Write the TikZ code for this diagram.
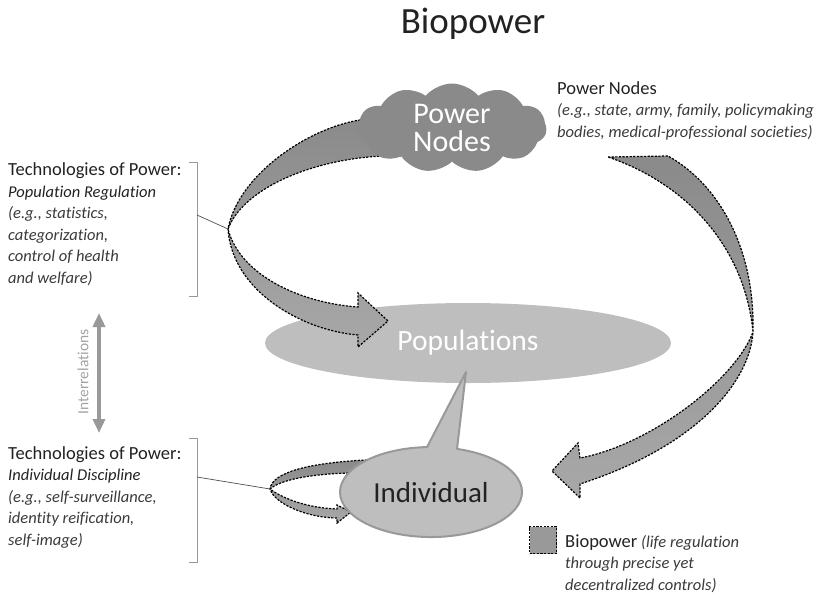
\documentclass[tikz,border=0pt]{standalone}
\usepackage{fontspec}
\setmainfont{Carlito}[Ligatures=CommonOff]
\usetikzlibrary{shapes.geometric}
\usetikzlibrary{shapes.symbols}
\usetikzlibrary{arrows.meta}

\definecolor{darkgrey}{HTML}{8A8A8A}
\definecolor{lightgrey}{HTML}{A8A8A8}
\definecolor{blobgrey}{HTML}{BEBEBE}
\definecolor{rimgrey}{HTML}{999999}
\definecolor{inkgrey}{HTML}{222222}
\definecolor{notegrey}{HTML}{3A3A3A}

\newcommand{\headsize}{\fontsize{18.5}{21.5}\selectfont}

\begin{document}
\begin{tikzpicture}[x=1pt,y=-1pt]
  \tikzset{ribbon/.style = {draw=black, line width=1.2pt, dash pattern=on 2.2pt off 1.4pt, top color=darkgrey, bottom color=lightgrey}}
  \tikzset{blurb/.style = {anchor=base west, align=left, inner sep=0pt, font=\fontsize{16.5}{21.5}\selectfont\itshape, text=notegrey}}
  \tikzset{bracket/.style = {draw=rimgrey, line width=1pt}}
  \tikzset{leader/.style = {draw=inkgrey!80, line width=0.7pt}}

  \useasboundingbox (0,0) rectangle (826,597);

	\node[font=\fontsize{37}{40}\selectfont, text=inkgrey] (title) at (473,24) {Biopower};

	\node[ellipse, fill=blobgrey, inner sep=0pt, minimum width=406, minimum height=80, text=white, font=\fontsize{29.5}{30}\selectfont] (pop) at (468,343) {Populations};

	\coordinate (pinch1) at (228,229);
	\coordinate (pinch2) at (753,332);
	\coordinate (pinch3) at (270,489);
	\coordinate (tie1) at (197,215);
	\coordinate (tie2) at (197,477);
	\coordinate (relup) at (99,313);
	\coordinate (reldown) at (99,433);

	% power nodes -> populations
	\path[ribbon] (400,120) -- (360,120) .. controls (308,128) and (238,175) .. (pinch1)
	  .. controls (232,290) and (300,330) .. (358,335) -- (358,347) -- (388,321) -- (358,293) -- (358,307)
	  .. controls (300,303) and (240,275) .. (pinch1)
	  .. controls (245,185) and (320,158) .. (385,156) -- (400,156) -- cycle;

	% power nodes -> individual
	\path[ribbon] (608,157) -- (668,156) .. controls (720,185) and (755,250) .. (pinch2)
	  .. controls (750,380) and (700,445) .. (580,484) -- (580,498) -- (552,471) -- (578,443) -- (580,458)
	  .. controls (650,445) and (735,380) .. (pinch2)
	  .. controls (745,250) and (690,185) .. (608,157) -- cycle;

	\node[cloud, cloud puffs=11, cloud puff arc=100, aspect=2.1, fill=darkgrey, inner sep=0pt, minimum width=189, minimum height=89, align=center, text=white, font=\fontsize{30}{28.5}\selectfont] (hub) at (452,128) {Power\\Nodes};

	% individual -> individual
	\path[ribbon] (385,462) -- (365,460) .. controls (310,463) and (272,472) .. (pinch3)
	  .. controls (275,505) and (310,518) .. (337,518) -- (337,523) -- (351,512) -- (337,505) -- (337,509)
	  .. controls (310,508) and (285,500) .. (pinch3)
	  .. controls (280,480) and (310,474) .. (350,473) -- (385,473) -- cycle;

	\path[fill=blobgrey, draw=rimgrey, line width=2pt, line join=round] (466,372) -- (457,448.9)
	  arc[start angle=73.4, end angle=-267.5, x radius=91pt, y radius=45pt] -- cycle;
	\node[font=\fontsize{29}{29}\selectfont, text=inkgrey] (indiv) at (431,493) {Individual};

	\node[blurb] (hubnote) at (557,137) {{\headsize\upshape\color{inkgrey}Power Nodes}\\(e.g., state, army, family, policymaking\\bodies, medical-professional societies)};

	\node[blurb] (popnote) at (8,283) {{\headsize\upshape\color{inkgrey}Technologies of Power:}\\{\color{inkgrey}Population Regulation}\\(e.g., statistics,\\categorization,\\control of health\\and welfare)};

	\node[blurb] (indnote) at (8,545) {{\headsize\upshape\color{inkgrey}Technologies of Power:}\\{\color{inkgrey}Individual Discipline}\\(e.g., self-surveillance,\\identity reification,\\self-image)};

	\foreach \ya/\yb in {162/296, 438/562}
	\draw[bracket] (189,\ya) -- (197,\ya) -- (197,\yb) -- (189,\yb);

	\foreach \from/\to in {tie1/pinch1, tie2/pinch3}
	\draw[leader] (\from) -- (\to);

	\draw[{Triangle[width=12pt,length=14pt]}-{Triangle[width=12pt,length=14pt]}, line width=4.5pt, draw=rimgrey, fill=rimgrey] (relup) -- (reldown);
	\node[rotate=90, text=rimgrey!90, font=\fontsize{15.5}{15.5}\selectfont] (reltext) at (83,372) {Interrelations};

	\node[draw=black, line width=1.2pt, dash pattern=on 2.2pt off 1.4pt, fill=rimgrey, minimum size=27, inner sep=0pt] (key) at (543,540) {};
	\node[blurb] (keynote) at (565,590) {{\headsize\upshape\color{inkgrey}Biopower} (life regulation\\through precise yet\\decentralized controls)};

\end{tikzpicture}
\end{document}
